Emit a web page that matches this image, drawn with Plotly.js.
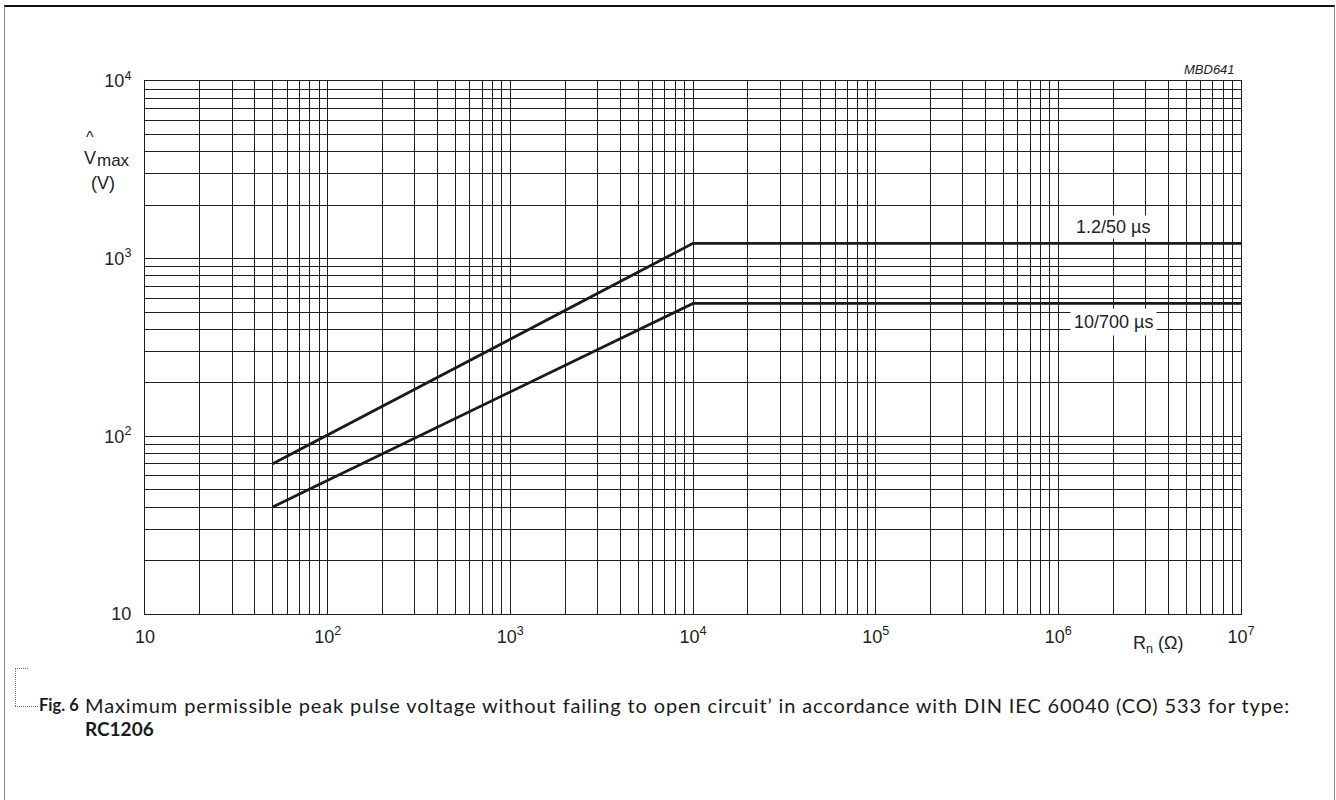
<!DOCTYPE html>
<html><head><meta charset="utf-8">
<script src="https://cdn.plot.ly/plotly-3.0.1.min.js"></script>
<style>
html,body{margin:0;padding:0;background:#fff;overflow:hidden;width:1336px;height:800px}
#chart{position:absolute;left:0;top:0;width:1336px;height:800px}
#frame{position:absolute;left:4px;top:5px;width:1329px;height:820px;border-top:2px solid #111;border-left:1px solid #888;border-right:1px solid #888;pointer-events:none}
.dot{position:absolute;border:0 dotted #777}
.cap{position:absolute;font-family:Lato,"Open Sans",sans-serif;font-size:20px;color:#1a1a1a;white-space:nowrap;line-height:23px}
.b{font-weight:bold}
</style></head>
<body>
<div id="chart"></div>
<div id="frame"></div>
<div class="dot" style="left:15px;top:668px;width:0;height:38px;border-left-width:1px"></div>
<div class="dot" style="left:15px;top:668px;width:13px;height:0;border-top-width:1px"></div>
<div class="dot" style="left:15px;top:706px;width:23px;height:0;border-top-width:1px"></div>
<div class="cap b" style="left:39px;top:694px;font-size:16.5px">Fig. 6</div>
<div class="cap" style="left:85px;top:694px"><span id="capline">Maximum permissible peak pulse voltage without failing to open circuit’ in accordance with DIN IEC 60040 (CO) 533 for type:</span><br><span class="b" style="font-size:19px">RC1206</span></div>
<script>
// Data
const resistance = [50, 1e4, 1e7];          // R_n (ohm)
const vmax_1_2_50 = [70, 1220, 1220];       // 1.2/50 us pulse (V)
const vmax_10_700 = [40, 560, 560];         // 10/700 us pulse (V)

const xTickVals = [10, 1e2, 1e3, 1e4, 1e5, 1e6, 1e7];
const xTickText = ["10", "10<sup>2</sup>", "10<sup>3</sup>", "10<sup>4</sup>", "10<sup>5</sup>", "10<sup>6</sup>", "10<sup>7</sup>"];
const yTickVals = [10, 1e2, 1e3, 1e4];
const yTickText = ["10", "10<sup>2</sup>", "10<sup>3</sup>", "10<sup>4</sup>"];

function minorVals(lo, hi) {
  const out = [];
  for (let d = lo; d < hi; d *= 10) for (let k = 2; k <= 9; k++) out.push(d * k);
  return out;
}

const lineStyle = {color: '#1a1a1a', width: 2.8};
const traces = [
  {x: resistance, y: vmax_1_2_50, mode: 'lines', line: lineStyle, name: '1.2/50 µs'},
  {x: resistance, y: vmax_10_700, mode: 'lines', line: lineStyle, name: '10/700 µs'}
];

const FF = '"Liberation Sans", Arial, sans-serif';
const tickFont = {family: FF, size: 18, color: '#222'};
const axisCommon = {
  type: 'log', showgrid: true, gridcolor: '#1e1e1e', gridwidth: 1,
  showline: true, linecolor: '#1e1e1e', linewidth: 1, mirror: true,
  ticks: '', zeroline: false, tickmode: 'array', tickfont: tickFont,
  fixedrange: true
};

const txt = (s, x, y, size) => ({xref: 'paper', yref: 'paper', x: x, y: y, xanchor: 'center', yanchor: 'middle',
  text: s, showarrow: false, font: {family: FF, size: size, color: '#222'}});

const layout = {
  width: 1336, height: 800,
  margin: {l: 145, r: 95, t: 81, b: 186},
  paper_bgcolor: '#fff', plot_bgcolor: '#fff',
  showlegend: false,
  xaxis: Object.assign({}, axisCommon, {
    range: [1, 7], tickvals: xTickVals, ticktext: xTickText, ticklabelstandoff: 6,
    minor: {tickmode: 'array', tickvals: minorVals(10, 1e7), showgrid: true, gridcolor: '#1e1e1e', gridwidth: 1, ticks: ''}
  }),
  yaxis: Object.assign({}, axisCommon, {
    range: [1, 4], tickvals: yTickVals, ticktext: yTickText, ticklabelstandoff: 9,
    minor: {tickmode: 'array', tickvals: minorVals(10, 1e4), showgrid: true, gridcolor: '#1e1e1e', gridwidth: 1, ticks: ''}
  }),
  annotations: [
    {xref: 'x', yref: 'y', x: 6.3, y: 3.178, xanchor: 'center', yanchor: 'middle', text: '1.2/50 µs', showarrow: false,
     font: {family: FF, size: 18, color: '#222'}, bgcolor: '#fff', borderpad: 1},
    {xref: 'x', yref: 'y', x: 6.3, y: 2.646, xanchor: 'center', yanchor: 'middle', text: '10/700 µs', showarrow: false,
     font: {family: FF, size: 18, color: '#222'}, bgcolor: '#fff', borderpad: 3},
    {xref: 'paper', yref: 'paper', x: 0.9963, y: 1.0225, xanchor: 'right', yanchor: 'middle', text: '<i>MBD641</i>', showarrow: false,
     font: {family: FF, size: 13, color: '#222'}},
    txt('^', -0.0505, 0.8949, 16),
    txt('V', -0.0505, 0.856, 18),
    txt('max', -0.029, 0.850, 17),
    txt('(V)', -0.0381, 0.8086, 18),
    {xref: 'paper', yref: 'paper', x: 0.924, y: -0.058, xanchor: 'center', yanchor: 'middle', text: 'R<sub>n</sub> (Ω)', showarrow: false,
     font: {family: FF, size: 18, color: '#222'}}
  ]
};

Plotly.newPlot('chart', traces, layout, {displayModeBar: false, staticPlot: true});

// stretch caption spacing to match the reference line length
(function () {
  const el = document.getElementById('capline');
  const target = 1205;
  const w = el.getBoundingClientRect().width;
  const n = el.textContent.length;
  if (w > 0 && n > 1) el.style.letterSpacing = ((target - w) / n).toFixed(3) + 'px';
})();
</script>
</body></html>
